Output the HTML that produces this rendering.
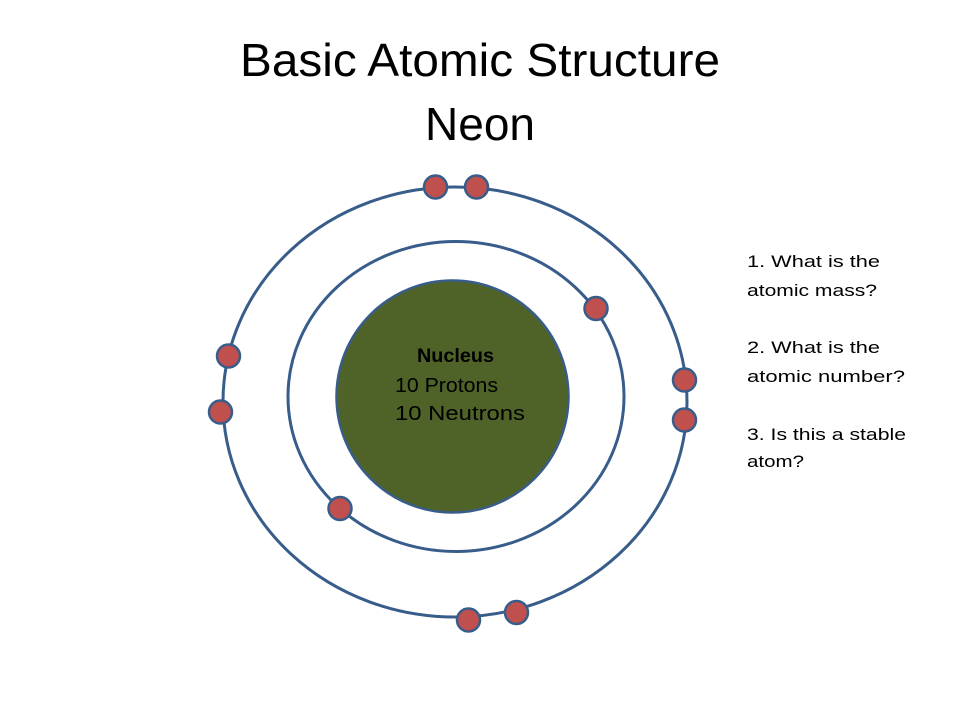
<!DOCTYPE html>
<html>
<head>
<meta charset="utf-8">
<style>
html,body{margin:0;padding:0;background:#fff;}
svg{display:block;}
</style>
</head>
<body>
<svg width="960" height="720" viewBox="0 0 960 720" xmlns="http://www.w3.org/2000/svg">
  <rect width="960" height="720" fill="#ffffff"/>
  <!-- Title -->
  <g font-family="'Liberation Sans', sans-serif" fill="#000">
    <text x="240" y="76" font-size="46" textLength="480" lengthAdjust="spacingAndGlyphs">Basic Atomic Structure</text>
    <text x="425" y="140" font-size="46" textLength="110" lengthAdjust="spacingAndGlyphs">Neon</text>
  </g>

  <!-- Orbits -->
  <ellipse cx="455" cy="402" rx="232" ry="215" fill="none" stroke="#385D8A" stroke-width="3"/>
  <ellipse cx="456" cy="396.5" rx="168" ry="155" fill="none" stroke="#385D8A" stroke-width="3"/>

  <!-- Nucleus -->
  <circle cx="452.5" cy="396.5" r="116" fill="#4F6228" stroke="#385D8A" stroke-width="2.5"/>
  <g font-family="'Liberation Sans', sans-serif" fill="#000">
    <text x="417" y="362" font-size="19" font-weight="bold" textLength="77" lengthAdjust="spacingAndGlyphs">Nucleus</text>
    <text x="395" y="392" font-size="20" textLength="103" lengthAdjust="spacingAndGlyphs">10 Protons</text>
    <text x="395" y="420" font-size="20" textLength="130" lengthAdjust="spacingAndGlyphs">10 Neutrons</text>
  </g>

  <!-- Electrons -->
  <g fill="#C0504D" stroke="#385D8A" stroke-width="2.5">
    <circle cx="435.5" cy="187" r="11.5"/>
    <circle cx="476.5" cy="187" r="11.5"/>
    <circle cx="596" cy="308.5" r="11.5"/>
    <circle cx="228.5" cy="356" r="11.5"/>
    <circle cx="220.5" cy="412" r="11.5"/>
    <circle cx="684.5" cy="380" r="11.5"/>
    <circle cx="684.5" cy="420" r="11.5"/>
    <circle cx="340" cy="508.5" r="11.5"/>
    <circle cx="468.5" cy="620" r="11.5"/>
    <circle cx="516.5" cy="612.5" r="11.5"/>
  </g>

  <!-- Questions -->
  <g font-family="'Liberation Sans', sans-serif" fill="#000" font-size="17">
    <text x="747" y="267" textLength="133" lengthAdjust="spacingAndGlyphs">1. What is the</text>
    <text x="747" y="296" textLength="130" lengthAdjust="spacingAndGlyphs">atomic mass?</text>
    <text x="747" y="353" textLength="133" lengthAdjust="spacingAndGlyphs">2. What is the</text>
    <text x="747" y="382" textLength="158" lengthAdjust="spacingAndGlyphs">atomic number?</text>
    <text x="747" y="440" textLength="159" lengthAdjust="spacingAndGlyphs">3. Is this a stable</text>
    <text x="747" y="467" textLength="57" lengthAdjust="spacingAndGlyphs">atom?</text>
  </g>
</svg>
</body>
</html>
